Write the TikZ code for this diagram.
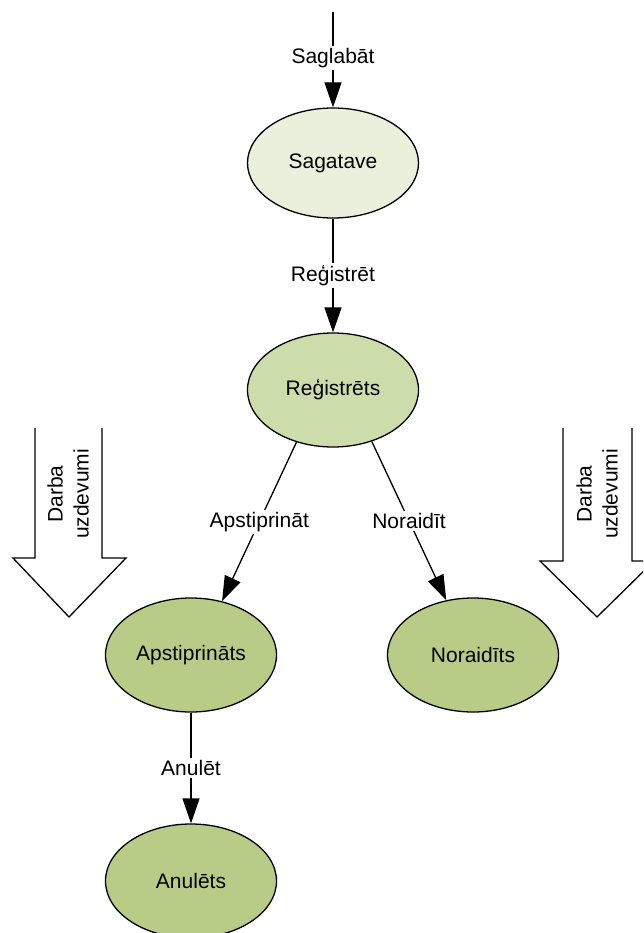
\documentclass[tikz,border=0pt]{standalone}
\usepackage{fontspec}
\setmainfont{Liberation Sans}
\usetikzlibrary{arrows.meta,shapes.geometric}
\definecolor{sagfill}{HTML}{EBF0DD}
\definecolor{regfill}{HTML}{CCDCAA}
\definecolor{endfill}{HTML}{B8CC88}
\begin{document}
\begin{tikzpicture}[x=1pt,y=-1pt,
  every node/.style={font=\fontsize{21}{26}\selectfont},
  state/.style={ellipse,draw,line width=1.3pt,inner sep=0pt,minimum width=171pt,minimum height=114pt},
  arr/.style={line width=1.3pt,-{Triangle[length=25pt,width=17pt]}},
  lbl/.style={fill=white,inner sep=2pt},
  blockarrow/.style={draw,line width=1.3pt,fill=white,line join=miter}]
\useasboundingbox (0,0) rectangle (643,933);
\clip (0,0) rectangle (643,933);
% states
\node[state,fill=sagfill,minimum height=110pt] (sag) at (333,163) {Sagatave};
\node[state,fill=regfill] (reg) at (333,390) {Reģistrēts};
\node[state,fill=endfill] (apst) at (191,655) {Apstiprināts};
\node[state,fill=endfill] (nor) at (473,655) {Noraidīts};
\node[state,fill=endfill] (anul) at (191,881) {Anulēts};
\coordinate (start) at (333,12);
% transitions
\draw[arr] (start) -- node[lbl,pos=0.48] (l1) {Saglabāt} (sag.north);
\draw[arr] (sag.south) -- node[lbl] (l2) {Reģistrēt} (reg.north);
\draw[arr] (reg.-125.6) -- node[lbl] (l3) {Apstiprināt} (apst.60.6);
\draw[arr] (reg.-53.6) -- node[lbl] (l4) {Noraidīt} (nor.116);
\draw[arr] (apst.south) -- node[lbl] (l5) {Anulēt} (anul.north);
% block arrows
\draw[blockarrow] (35,428) -- (35,558) -- (13,558) -- (69,617) -- (126,558) -- (102,558) -- (102,428);
\node[rotate=90,align=center] (ba1) at (68,494) {Darba\\uzdevumi};
\draw[blockarrow] (563,428) -- (563,561) -- (540,561) -- (597,617) -- (654,561) -- (632,561) -- (632,428);
\node[rotate=90,align=center] (ba2) at (597,494) {Darba\\uzdevumi};
\end{tikzpicture}
\end{document}
